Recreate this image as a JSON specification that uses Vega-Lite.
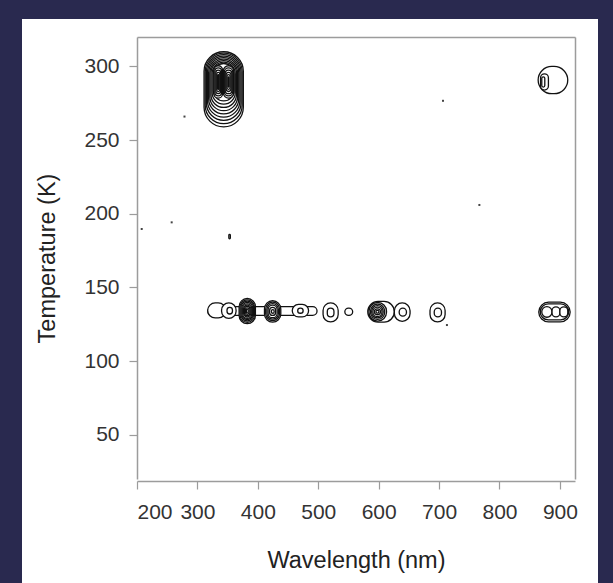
{
  "$schema": "https://vega.github.io/schema/vega-lite/v6.json",
  "width": 576,
  "height": 566,
  "autosize": "none",
  "padding": {"left": 22, "top": 19, "right": 15, "bottom": 0},
  "background": "#29294f",
  "config": {
    "view": {"fill": "white", "stroke": null},
    "axis": {
      "grid": false,
      "domainColor": "#9c9c9c",
      "domainWidth": 1.5,
      "tickColor": "#9c9c9c",
      "tickWidth": 1.2,
      "tickSize": 8,
      "labelFont": "Liberation Sans",
      "labelFontSize": 21,
      "labelColor": "#333333",
      "titleFont": "Liberation Sans",
      "titleFontSize": 23.5,
      "titleFontWeight": "normal",
      "titleColor": "#222222"
    }
  },
  "datasets": {
    "rings": [
      {"w0": 311, "w1": 376, "t0": 259, "t1": 310},
      {"w0": 312.9, "w1": 374.1, "t0": 261.2, "t1": 309},
      {"w0": 314.8, "w1": 372.2, "t0": 263.4, "t1": 308},
      {"w0": 316.7, "w1": 370.3, "t0": 265.6, "t1": 307},
      {"w0": 318.6, "w1": 368.4, "t0": 267.8, "t1": 306},
      {"w0": 320.5, "w1": 366.5, "t0": 270, "t1": 305},
      {"w0": 322.4, "w1": 364.6, "t0": 272.2, "t1": 304},
      {"w0": 324.3, "w1": 362.7, "t0": 274.4, "t1": 303},
      {"w0": 326.2, "w1": 360.8, "t0": 276.6, "t1": 302},
      {"w0": 327.5, "w1": 341.5, "t0": 278.5, "t1": 300.5},
      {"w0": 329, "w1": 340, "t0": 280, "t1": 299},
      {"w0": 330.5, "w1": 338.5, "t0": 281.5, "t1": 297.5},
      {"w0": 332, "w1": 337, "t0": 283, "t1": 296},
      {"w0": 333.5, "w1": 335.5, "t0": 284.5, "t1": 294.5},
      {"w0": 343, "w1": 360, "t0": 278.5, "t1": 300.5},
      {"w0": 344.5, "w1": 358.5, "t0": 280, "t1": 299},
      {"w0": 346, "w1": 357, "t0": 281.5, "t1": 297.5},
      {"w0": 347.5, "w1": 355.5, "t0": 283, "t1": 296},
      {"w0": 349, "w1": 354, "t0": 284.5, "t1": 294.5},
      {"w0": 350.5, "w1": 352.5, "t0": 286, "t1": 293},
      {"w0": 864, "w1": 913, "t0": 281.5, "t1": 300},
      {"w0": 868, "w1": 881, "t0": 284, "t1": 295},
      {"w0": 870, "w1": 875, "t0": 286, "t1": 293},
      {"w0": 352, "w1": 354.5, "t0": 183, "t1": 186},
      {"w0": 317, "w1": 498, "t0": 131, "t1": 137},
      {"w0": 317, "w1": 347, "t0": 129.3, "t1": 139.5},
      {"w0": 340, "w1": 364, "t0": 129, "t1": 139.5},
      {"w0": 349, "w1": 358, "t0": 132, "t1": 136.5},
      {"w0": 369, "w1": 396, "t0": 125.5, "t1": 142.5},
      {"w0": 370.5, "w1": 394.5, "t0": 126.4, "t1": 141.6},
      {"w0": 372, "w1": 393, "t0": 127.3, "t1": 140.7},
      {"w0": 373.5, "w1": 391.5, "t0": 128.2, "t1": 139.8},
      {"w0": 375, "w1": 390, "t0": 129.1, "t1": 138.9},
      {"w0": 376.5, "w1": 388.5, "t0": 130, "t1": 138},
      {"w0": 378, "w1": 387, "t0": 130.9, "t1": 137.1},
      {"w0": 379.5, "w1": 385.5, "t0": 131.8, "t1": 136.2},
      {"w0": 381, "w1": 384, "t0": 132.7, "t1": 135.3},
      {"w0": 411, "w1": 438, "t0": 126.5, "t1": 141},
      {"w0": 413, "w1": 436, "t0": 127.5, "t1": 140},
      {"w0": 415, "w1": 434, "t0": 128.5, "t1": 139},
      {"w0": 417, "w1": 432, "t0": 129.5, "t1": 138},
      {"w0": 419.5, "w1": 429.5, "t0": 131, "t1": 136.5},
      {"w0": 422.5, "w1": 427, "t0": 132.5, "t1": 135},
      {"w0": 457, "w1": 484, "t0": 130, "t1": 138.5},
      {"w0": 466, "w1": 475, "t0": 132.5, "t1": 136},
      {"w0": 508, "w1": 533, "t0": 126.6, "t1": 139.5},
      {"w0": 515, "w1": 526, "t0": 130, "t1": 136},
      {"w0": 544, "w1": 557, "t0": 131, "t1": 136},
      {"w0": 582, "w1": 626, "t0": 126.5, "t1": 140.5},
      {"w0": 584, "w1": 613, "t0": 127.2, "t1": 139.8},
      {"w0": 586.5, "w1": 610, "t0": 128.3, "t1": 138.7},
      {"w0": 588.5, "w1": 607.5, "t0": 129.3, "t1": 137.7},
      {"w0": 590.5, "w1": 605.5, "t0": 130.3, "t1": 136.7},
      {"w0": 593, "w1": 603, "t0": 131.5, "t1": 135.5},
      {"w0": 595.5, "w1": 600.5, "t0": 132.6, "t1": 134.4},
      {"w0": 626, "w1": 652, "t0": 127, "t1": 139.5},
      {"w0": 634, "w1": 646, "t0": 130.5, "t1": 136},
      {"w0": 685, "w1": 710, "t0": 126.6, "t1": 139.5},
      {"w0": 692, "w1": 704, "t0": 130, "t1": 136},
      {"w0": 865, "w1": 917, "t0": 126.6, "t1": 140},
      {"w0": 867.5, "w1": 914.5, "t0": 128, "t1": 138.8},
      {"w0": 870, "w1": 887, "t0": 129.8, "t1": 137},
      {"w0": 887, "w1": 900, "t0": 130, "t1": 136.8},
      {"w0": 900, "w1": 913, "t0": 130, "t1": 136.8}
    ],
    "dots": [
      {"w": 207.8, "t": 189.7},
      {"w": 257.4, "t": 194.2},
      {"w": 278.6, "t": 266},
      {"w": 706.5, "t": 276.7},
      {"w": 766.7, "t": 206},
      {"w": 713, "t": 124.5}
    ]
  },
  "resolve": {"axis": {"x": "independent", "y": "independent"}},
  "layer": [
    {
      "data": {"name": "rings"},
      "mark": {"type": "rect", "fill": "white", "stroke": "#111111", "strokeWidth": 1.3, "cornerRadius": 60},
      "encoding": {
        "x": {
          "field": "w0", "type": "quantitative",
          "scale": {"domain": [200, 925], "range": [115, 553], "nice": false, "zero": false},
          "axis": {"orient": "bottom", "offset": -104, "values": [200, 300, 400, 500, 600, 700, 800, 900], "title": "Wavelength (nm)", "labelPadding": 12, "titlePadding": 26}
        },
        "x2": {"field": "w1"},
        "y": {
          "field": "t0", "type": "quantitative",
          "scale": {"domain": [20, 320], "range": [460, 18], "nice": false, "zero": false},
          "axis": {"orient": "left", "offset": -115, "values": [50, 100, 150, 200, 250, 300], "title": "Temperature (K)", "labelPadding": 10, "titlePadding": 24}
        },
        "y2": {"field": "t1"}
      }
    },
    {
      "data": {"name": "dots"},
      "mark": {"type": "square", "size": 4, "color": "#444444", "opacity": 1},
      "encoding": {
        "x": {
          "field": "w", "type": "quantitative",
          "scale": {"domain": [200, 925], "range": [115, 553], "nice": false, "zero": false},
          "axis": {"orient": "top", "offset": -18, "labels": false, "ticks": false, "title": null}
        },
        "y": {
          "field": "t", "type": "quantitative",
          "scale": {"domain": [20, 320], "range": [460, 18], "nice": false, "zero": false},
          "axis": {"orient": "right", "offset": -23, "labels": false, "ticks": false, "title": null}
        }
      }
    }
  ]
}
